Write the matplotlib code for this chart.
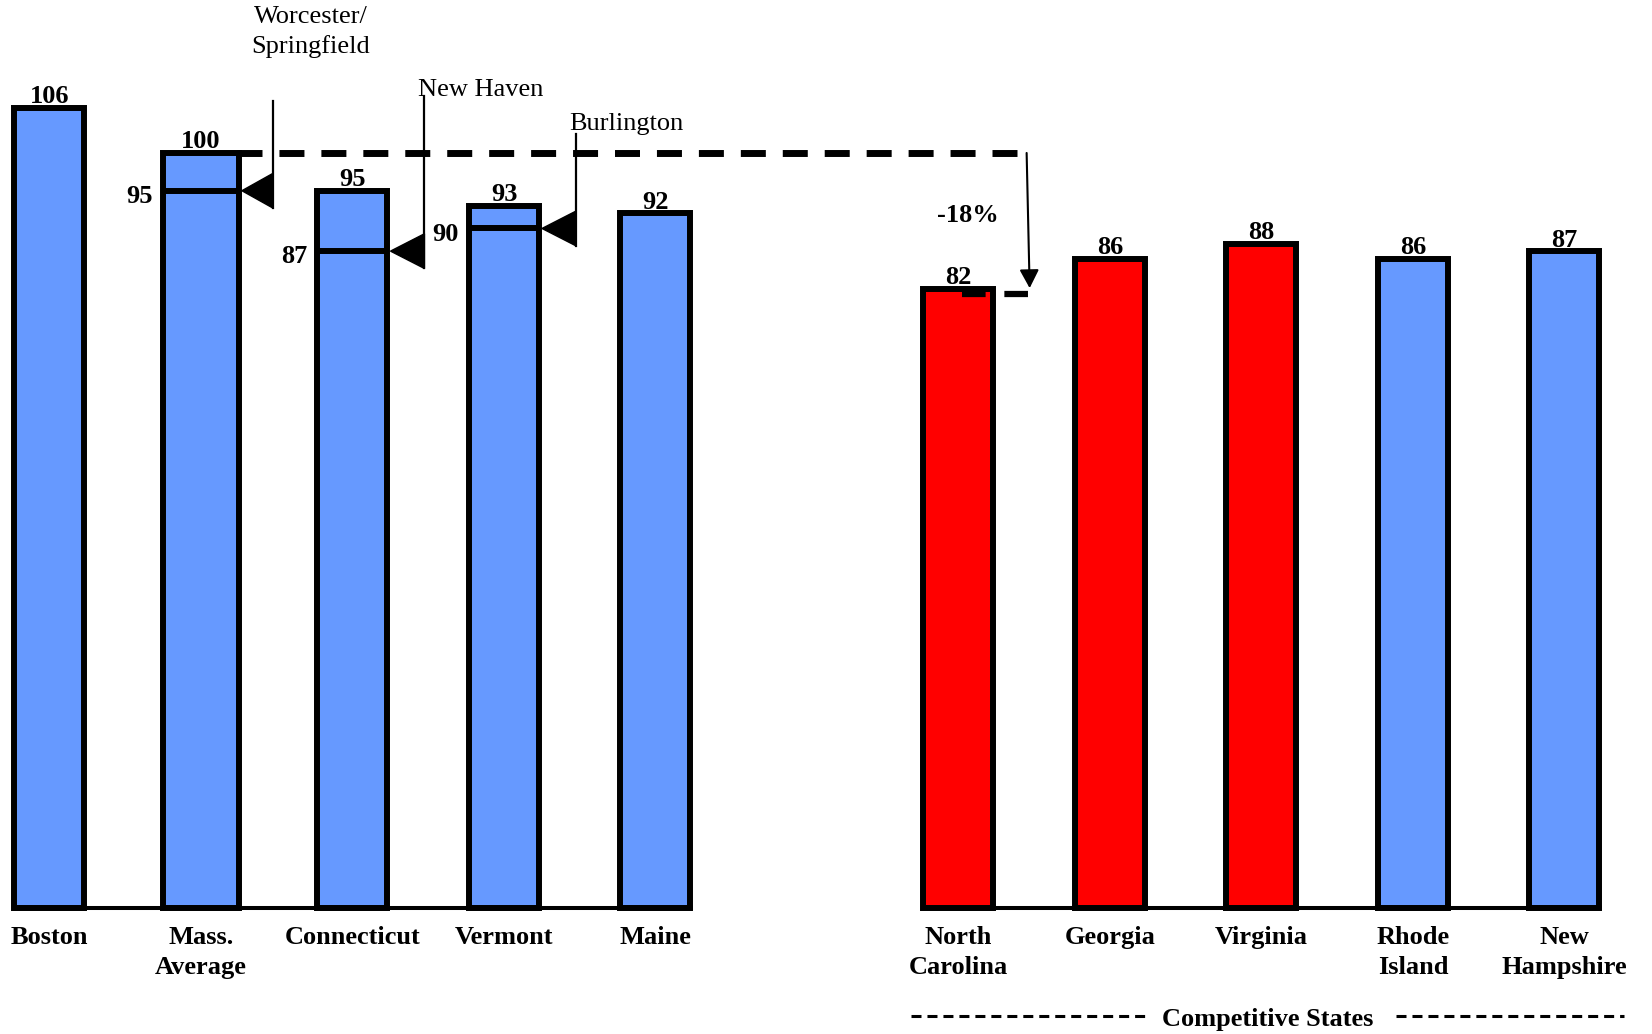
# Imports
import numpy as np
import matplotlib.pyplot as plt
from matplotlib.patches import Polygon

# Chart data
categories = ['Boston', 'Mass.\nAverage', 'Connecticut', 'Vermont', 'Maine',
              'North\nCarolina', 'Georgia', 'Virginia', 'Rhode\nIsland', 'New\nHampshire']
values = [106, 100, 95, 93, 92, 82, 86, 88, 86, 87]
competitive = [False, False, False, False, False, True, True, True, False, False]

# Cities marked inside the state bars
cities = ['Worcester/\nSpringfield', 'New Haven', 'Burlington']
city_states = ['Mass.\nAverage', 'Connecticut', 'Vermont']
city_values = [95, 87, 90]

group_label = 'Competitive States'

# Styling
BLUE = '#6699FF'
RED = '#FF0000'
plt.rcParams['font.family'] = ['Liberation Serif', 'DejaVu Serif']
plt.rcParams['lines.scale_dashes'] = False
FS = 19
LS = 1.38

# Bar positions: two groups with one empty slot between them
positions = np.array([0, 1, 2, 3, 4, 6, 7, 8, 9, 10])
widths = np.full(len(positions), 0.462)
widths[1] = 0.50  # the Mass. average bar is drawn a little wider

# Create a figure filling the whole canvas
fig = plt.figure(figsize=(16.52, 10.34), dpi=100)
ax = fig.add_axes([0, 0, 1, 1])
ax.set_xlim(-0.3267, 10.578)
ax.set_ylim(-16.69, 120.26)
ax.axis('off')

# Draw the bars
colors = [RED if c else BLUE for c in competitive]
ax.bar(positions, values, width=widths, color=colors, edgecolor='black',
       linewidth=4.3, zorder=2)

# Baselines under each group
for lo, hi in [(0, 4), (6, 10)]:
    ax.hlines(0, lo - 0.246, hi + 0.246, color='black', linewidth=2.9, zorder=3)

# Value labels on top of the bars
for x, v in zip(positions, values):
    ax.text(x, v + 0.6, f'{v}', ha='center', va='baseline', fontsize=FS,
            fontweight='bold', zorder=5)

# Category labels below the bars
for x, name in zip(positions, categories):
    ax.text(x, -2.4, name, ha='center', va='top', fontsize=FS,
            fontweight='bold', linespacing=LS)

# City markers: inner line, side label and pointer arrow
line_tops = [106.9, 107.5, 102.5]
for city, state, cv, top in zip(cities, city_states, city_values, line_tops):
    i = categories.index(state)
    x = positions[i]
    left, right = x - widths[i] / 2, x + widths[i] / 2
    ax.hlines(cv, left, right, color='black', linewidth=4.3, zorder=4)
    ax.text(left - 0.07, cv - 1.6, f'{cv}', ha='right', va='baseline',
            fontsize=FS, fontweight='bold')

    # Pointer triangle and its stem
    stem_x = x + 0.475
    half = 2.3
    tri = Polygon([[right + 0.02, cv], [stem_x, cv + half], [stem_x, cv - half]],
                  closed=True, color='black', zorder=5)
    ax.add_patch(tri)
    ax.plot([stem_x, stem_x], [cv - half, top], color='black', linewidth=1.6,
            zorder=5)

# City names next to the stems
ax.text(1.727, 119.4, cities[0], ha='center', va='top', fontsize=FS,
        linespacing=LS)
ax.text(2.43, 107.5, cities[1], ha='left', va='baseline', fontsize=FS)
ax.text(3.43, 103.0, cities[2], ha='left', va='baseline', fontsize=FS)

# Gap between Mass. average and North Carolina
ref, low = values[1], values[5]
ax.plot([1.24, 6.45], [ref, ref], color='black', linewidth=5, dashes=[18, 12.2],
        zorder=3)
ax.plot([6.023, 6.46], [low - 0.7, low - 0.7], color='black', linewidth=4.5,
        dashes=[17, 13.5], zorder=4)
ax.annotate('', xy=(6.47, low + 0.1), xytext=(6.45, ref),
            arrowprops=dict(arrowstyle='-|>,head_length=0.8,head_width=0.42',
                            mutation_scale=14, color='black', lw=1.5,
                            shrinkA=0, shrinkB=0))
ax.text(6.06, 91.7, f'{(low - ref) / ref:.0%}', ha='center', va='center',
        fontsize=FS, fontweight='bold')

# Group label for the competitive states
ax.text(8.04, -15.6, group_label, ha='center', va='baseline', fontsize=FS,
        fontweight='bold')
for lo, hi in [(5.69, 7.24), (8.89, 10.39)]:
    ax.plot([lo, hi], [-14.3, -14.3], color='black', linewidth=2.2,
            dashes=[7.2, 4.3])

fig.savefig('out.png', dpi=100)
